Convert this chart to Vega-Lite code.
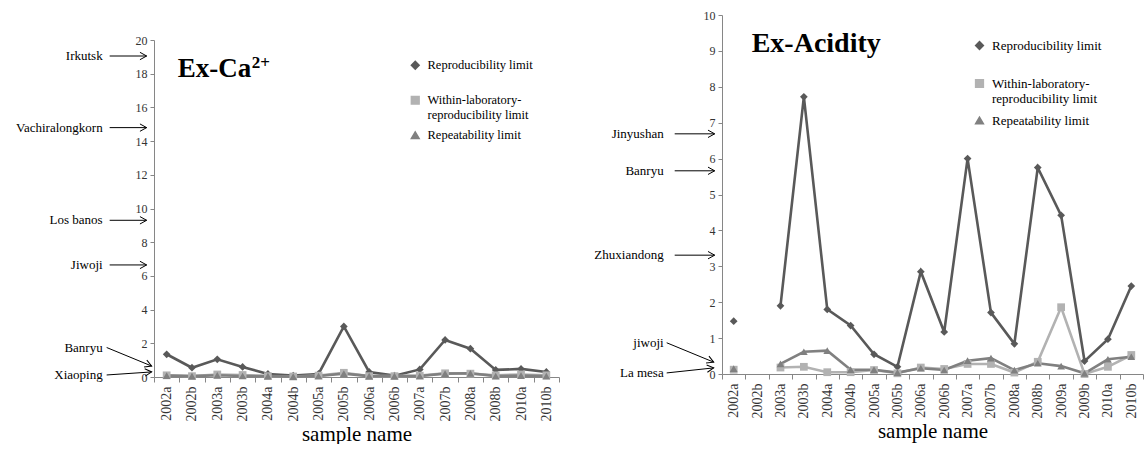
{
  "$schema": "https://vega.github.io/schema/vega-lite/v6.json",
  "background": "white",
  "padding": {"left": 16, "top": 9, "right": 2, "bottom": 0},
  "config": {
    "view": {"stroke": null},
    "font": "Liberation Serif",
    "axis": {"domainColor": "#868686", "tickColor": "#868686", "labelColor": "#333333", "labelFont": "Liberation Serif", "titleFont": "Liberation Serif", "grid": false, "labelOverlap": false},
    "axisY": {"labelFontSize": 12, "tickSize": 4, "labelPadding": 3},
    "axisX": {"labelAngle": -90, "labelFontSize": 14, "tickSize": 5, "tickBand": "extent", "labelPadding": 4, "titleFontSize": 21, "titleFontWeight": "normal", "titleColor": "#000000", "titlePadding": 2},
    "legend": {"labelFont": "Liberation Serif", "labelColor": "#000000", "labelLimit": 300},
    "text": {"font": "Liberation Serif"}
  },
  "datasets": {
    "ca": [
      {"sample": "2002a", "series": "Reproducibility limit", "value": 1.35},
      {"sample": "2002b", "series": "Reproducibility limit", "value": 0.55},
      {"sample": "2003a", "series": "Reproducibility limit", "value": 1.05},
      {"sample": "2003b", "series": "Reproducibility limit", "value": 0.6},
      {"sample": "2004a", "series": "Reproducibility limit", "value": 0.18},
      {"sample": "2004b", "series": "Reproducibility limit", "value": 0.08},
      {"sample": "2005a", "series": "Reproducibility limit", "value": 0.18},
      {"sample": "2005b", "series": "Reproducibility limit", "value": 3.0},
      {"sample": "2006a", "series": "Reproducibility limit", "value": 0.3},
      {"sample": "2006b", "series": "Reproducibility limit", "value": 0.08},
      {"sample": "2007a", "series": "Reproducibility limit", "value": 0.45},
      {"sample": "2007b", "series": "Reproducibility limit", "value": 2.2},
      {"sample": "2008a", "series": "Reproducibility limit", "value": 1.68},
      {"sample": "2008b", "series": "Reproducibility limit", "value": 0.42},
      {"sample": "2010a", "series": "Reproducibility limit", "value": 0.48},
      {"sample": "2010b", "series": "Reproducibility limit", "value": 0.3},
      {"sample": "2002a", "series": "Within-laboratory-reproducibility limit", "value": 0.1},
      {"sample": "2002b", "series": "Within-laboratory-reproducibility limit", "value": 0.05},
      {"sample": "2003a", "series": "Within-laboratory-reproducibility limit", "value": 0.15},
      {"sample": "2003b", "series": "Within-laboratory-reproducibility limit", "value": 0.12},
      {"sample": "2004a", "series": "Within-laboratory-reproducibility limit", "value": 0.05},
      {"sample": "2004b", "series": "Within-laboratory-reproducibility limit", "value": 0.03},
      {"sample": "2005a", "series": "Within-laboratory-reproducibility limit", "value": 0.08},
      {"sample": "2005b", "series": "Within-laboratory-reproducibility limit", "value": 0.25},
      {"sample": "2006a", "series": "Within-laboratory-reproducibility limit", "value": 0.05},
      {"sample": "2006b", "series": "Within-laboratory-reproducibility limit", "value": 0.05},
      {"sample": "2007a", "series": "Within-laboratory-reproducibility limit", "value": 0.08},
      {"sample": "2007b", "series": "Within-laboratory-reproducibility limit", "value": 0.22},
      {"sample": "2008a", "series": "Within-laboratory-reproducibility limit", "value": 0.2},
      {"sample": "2008b", "series": "Within-laboratory-reproducibility limit", "value": 0.1},
      {"sample": "2010a", "series": "Within-laboratory-reproducibility limit", "value": 0.15},
      {"sample": "2010b", "series": "Within-laboratory-reproducibility limit", "value": 0.1},
      {"sample": "2002a", "series": "Repeatability limit", "value": 0.08},
      {"sample": "2002b", "series": "Repeatability limit", "value": 0.05},
      {"sample": "2003a", "series": "Repeatability limit", "value": 0.1},
      {"sample": "2003b", "series": "Repeatability limit", "value": 0.06},
      {"sample": "2004a", "series": "Repeatability limit", "value": 0.05},
      {"sample": "2004b", "series": "Repeatability limit", "value": 0.02},
      {"sample": "2005a", "series": "Repeatability limit", "value": 0.06},
      {"sample": "2005b", "series": "Repeatability limit", "value": 0.2},
      {"sample": "2006a", "series": "Repeatability limit", "value": 0.05},
      {"sample": "2006b", "series": "Repeatability limit", "value": 0.05},
      {"sample": "2007a", "series": "Repeatability limit", "value": 0.06},
      {"sample": "2007b", "series": "Repeatability limit", "value": 0.2},
      {"sample": "2008a", "series": "Repeatability limit", "value": 0.22},
      {"sample": "2008b", "series": "Repeatability limit", "value": 0.05},
      {"sample": "2010a", "series": "Repeatability limit", "value": 0.08},
      {"sample": "2010b", "series": "Repeatability limit", "value": 0.05}
    ],
    "acid": [
      {"sample": "2002a", "series": "Reproducibility limit", "value": 1.47},
      {"sample": "2002b", "series": "Reproducibility limit", "value": null},
      {"sample": "2003a", "series": "Reproducibility limit", "value": 1.9},
      {"sample": "2003b", "series": "Reproducibility limit", "value": 7.72},
      {"sample": "2004a", "series": "Reproducibility limit", "value": 1.8},
      {"sample": "2004b", "series": "Reproducibility limit", "value": 1.35},
      {"sample": "2005a", "series": "Reproducibility limit", "value": 0.55},
      {"sample": "2005b", "series": "Reproducibility limit", "value": 0.2},
      {"sample": "2006a", "series": "Reproducibility limit", "value": 2.85},
      {"sample": "2006b", "series": "Reproducibility limit", "value": 1.17},
      {"sample": "2007a", "series": "Reproducibility limit", "value": 6.0},
      {"sample": "2007b", "series": "Reproducibility limit", "value": 1.71},
      {"sample": "2008a", "series": "Reproducibility limit", "value": 0.84},
      {"sample": "2008b", "series": "Reproducibility limit", "value": 5.75},
      {"sample": "2009a", "series": "Reproducibility limit", "value": 4.42},
      {"sample": "2009b", "series": "Reproducibility limit", "value": 0.36},
      {"sample": "2010a", "series": "Reproducibility limit", "value": 0.97},
      {"sample": "2010b", "series": "Reproducibility limit", "value": 2.45},
      {"sample": "2002a", "series": "Within-laboratory-reproducibility limit", "value": 0.12},
      {"sample": "2002b", "series": "Within-laboratory-reproducibility limit", "value": null},
      {"sample": "2003a", "series": "Within-laboratory-reproducibility limit", "value": 0.18},
      {"sample": "2003b", "series": "Within-laboratory-reproducibility limit", "value": 0.2},
      {"sample": "2004a", "series": "Within-laboratory-reproducibility limit", "value": 0.05},
      {"sample": "2004b", "series": "Within-laboratory-reproducibility limit", "value": 0.05},
      {"sample": "2005a", "series": "Within-laboratory-reproducibility limit", "value": 0.11},
      {"sample": "2005b", "series": "Within-laboratory-reproducibility limit", "value": 0.02},
      {"sample": "2006a", "series": "Within-laboratory-reproducibility limit", "value": 0.18},
      {"sample": "2006b", "series": "Within-laboratory-reproducibility limit", "value": 0.14},
      {"sample": "2007a", "series": "Within-laboratory-reproducibility limit", "value": 0.28},
      {"sample": "2007b", "series": "Within-laboratory-reproducibility limit", "value": 0.28},
      {"sample": "2008a", "series": "Within-laboratory-reproducibility limit", "value": 0.04},
      {"sample": "2008b", "series": "Within-laboratory-reproducibility limit", "value": 0.34},
      {"sample": "2009a", "series": "Within-laboratory-reproducibility limit", "value": 1.86},
      {"sample": "2009b", "series": "Within-laboratory-reproducibility limit", "value": 0.0},
      {"sample": "2010a", "series": "Within-laboratory-reproducibility limit", "value": 0.2},
      {"sample": "2010b", "series": "Within-laboratory-reproducibility limit", "value": 0.53},
      {"sample": "2002a", "series": "Repeatability limit", "value": 0.15},
      {"sample": "2002b", "series": "Repeatability limit", "value": null},
      {"sample": "2003a", "series": "Repeatability limit", "value": 0.28},
      {"sample": "2003b", "series": "Repeatability limit", "value": 0.62},
      {"sample": "2004a", "series": "Repeatability limit", "value": 0.65},
      {"sample": "2004b", "series": "Repeatability limit", "value": 0.12},
      {"sample": "2005a", "series": "Repeatability limit", "value": 0.12},
      {"sample": "2005b", "series": "Repeatability limit", "value": 0.04},
      {"sample": "2006a", "series": "Repeatability limit", "value": 0.16},
      {"sample": "2006b", "series": "Repeatability limit", "value": 0.11},
      {"sample": "2007a", "series": "Repeatability limit", "value": 0.37},
      {"sample": "2007b", "series": "Repeatability limit", "value": 0.44},
      {"sample": "2008a", "series": "Repeatability limit", "value": 0.11},
      {"sample": "2008b", "series": "Repeatability limit", "value": 0.3},
      {"sample": "2009a", "series": "Repeatability limit", "value": 0.22},
      {"sample": "2009b", "series": "Repeatability limit", "value": 0.02},
      {"sample": "2010a", "series": "Repeatability limit", "value": 0.41},
      {"sample": "2010b", "series": "Repeatability limit", "value": 0.48}
    ],
    "caAnn": [
      {"label": "Irkutsk", "y": 19.05, "yEnd": 19.05},
      {"label": "Vachiralongkorn", "y": 14.8, "yEnd": 14.8},
      {"label": "Los banos", "y": 9.3, "yEnd": 9.3},
      {"label": "Jiwoji", "y": 6.65, "yEnd": 6.65},
      {"label": "Banryu", "y": 1.75, "yEnd": 0.65},
      {"label": "Xiaoping", "y": 0.12, "yEnd": 0.3}
    ],
    "acidAnn": [
      {"label": "Jinyushan", "y": 6.69, "yEnd": 6.69},
      {"label": "Banryu", "y": 5.66, "yEnd": 5.66},
      {"label": "Zhuxiandong", "y": 3.31, "yEnd": 3.31},
      {"label": "jiwoji", "y": 0.87, "yEnd": 0.33},
      {"label": "La mesa", "y": 0.03, "yEnd": 0.17}
    ]
  },
  "resolve": {"scale": {"color": "independent", "shape": "independent", "x": "independent", "y": "independent"}},
  "spacing": 34,
  "hconcat": [
    {
      "spacing": 18,
      "vconcat": [
        {
          "width": 405,
          "height": 1,
          "data": {"values": [{}]},
          "mark": {"type": "point", "size": 1, "opacity": 0},
          "encoding": {}
        },
        {
          "width": 405,
          "height": 337,
          "layer": [
            {
              "data": {"name": "ca"},
              "mark": {"type": "line", "strokeWidth": 2.6, "invalid": "break-paths-show-domains"},
              "encoding": {
                "x": {"field": "sample", "type": "nominal", "bandPosition": 0.5,
                  "scale": {"type": "band", "domain": ["2002a","2002b","2003a","2003b","2004a","2004b","2005a","2005b","2006a","2006b","2007a","2007b","2008a","2008b","2010a","2010b"], "paddingInner": 0, "paddingOuter": 0},
                  "axis": {"title": "sample name", "labelOverlap": false}},
                "y": {"field": "value", "type": "quantitative", "scale": {"domain": [0, 20], "nice": false}, "axis": {"title": null, "values": [0,2,4,6,8,10,12,14,16,18,20], "tickCount": 11, "labelOverlap": false, "labelFlush": false}},
                "color": {"field": "series", "type": "nominal",
                  "scale": {"domain": ["Reproducibility limit", "Within-laboratory-reproducibility limit", "Repeatability limit"], "range": ["#595959", "#b2b2b2", "#808080"]},
                  "legend": {"title": null, "orient": "none", "legendX": 255, "legendY": 44, "labelFont": "Liberation Serif", "labelFontSize": 12.5, "rowPadding": 6, "symbolSize": 60, "labelOffset": 6, "labelExpr": "datum.label == 'Within-laboratory-reproducibility limit' ? ['Within-laboratory-', 'reproducibility limit'] : datum.label == 'Reproducibility limit' ? ['Reproducibility limit', ''] : datum.label"}}
              }
            },
            {
              "data": {"name": "ca"},
              "mark": {"type": "point", "filled": true, "opacity": 1, "size": 60, "invalid": "filter"},
              "encoding": {
                "x": {"field": "sample", "type": "nominal", "bandPosition": 0.5},
                "y": {"field": "value", "type": "quantitative"},
                "color": {"field": "series", "type": "nominal",
                  "legend": {"title": null, "orient": "none", "legendX": 255, "legendY": 44, "labelFont": "Liberation Serif", "labelFontSize": 12.5, "rowPadding": 6, "symbolSize": 60, "labelOffset": 6, "labelExpr": "datum.label == 'Within-laboratory-reproducibility limit' ? ['Within-laboratory-', 'reproducibility limit'] : datum.label == 'Reproducibility limit' ? ['Reproducibility limit', ''] : datum.label"}},
                "shape": {"field": "series", "type": "nominal",
                  "scale": {"domain": ["Reproducibility limit", "Within-laboratory-reproducibility limit", "Repeatability limit"], "range": ["diamond", "square", "triangle-up"]},
                  "legend": {"title": null, "orient": "none", "legendX": 255, "legendY": 44, "labelFont": "Liberation Serif", "labelFontSize": 12.5, "rowPadding": 6, "symbolSize": 60, "labelOffset": 6, "labelExpr": "datum.label == 'Within-laboratory-reproducibility limit' ? ['Within-laboratory-', 'reproducibility limit'] : datum.label == 'Reproducibility limit' ? ['Reproducibility limit', ''] : datum.label"}}
              }
            },
            {
              "data": {"name": "caAnn"},
              "mark": {"type": "text", "align": "right", "baseline": "middle", "dx": -64, "fontSize": 13, "font": "Liberation Serif", "color": "#000000"},
              "encoding": {
                "x": {"datum": "2002a", "type": "nominal", "bandPosition": 0.5},
                "y": {"field": "y", "type": "quantitative"},
                "text": {"field": "label"}
              }
            },
            {
              "data": {"name": "caAnn"},
              "transform": [{"filter": "datum.y == datum.yEnd"}],
              "mark": {"type": "rule", "xOffset": -57, "x2Offset": -20, "color": "#000000", "strokeWidth": 1},
              "encoding": {
                "x": {"datum": "2002a", "type": "nominal", "bandPosition": 0.5},
                "x2": {"datum": "2002a"},
                "y": {"field": "y", "type": "quantitative"}
              }
            },
            {
              "data": {"name": "caAnn"},
              "transform": [{"filter": "datum.y != datum.yEnd"}],
              "mark": {"type": "rule", "xOffset": -60, "x2Offset": -15, "color": "#000000", "strokeWidth": 1},
              "encoding": {
                "x": {"datum": "2002a", "type": "nominal", "bandPosition": 0.5},
                "x2": {"datum": "2002a"},
                "y": {"field": "y", "type": "quantitative"},
                "y2": {"field": "yEnd"}
              }
            },
            {
              "data": {"name": "caAnn"},
              "transform": [{"filter": "datum.y == datum.yEnd"}],
              "mark": {"type": "point", "shape": "M-1,-0.55L0,0L-1,0.55", "size": 180, "filled": false, "stroke": "#000000", "strokeWidth": 1, "opacity": 1, "xOffset": -20},
              "encoding": {
                "x": {"datum": "2002a", "type": "nominal", "bandPosition": 0.5},
                "y": {"field": "y", "type": "quantitative"}
              }
            },
            {
              "data": {"name": "caAnn"},
              "transform": [{"filter": "datum.label == 'Banryu'"}],
              "mark": {"type": "point", "shape": "M-1,-0.55L0,0L-1,0.55", "size": 180, "filled": false, "stroke": "#000000", "strokeWidth": 1, "opacity": 1, "xOffset": -15, "angle": 22},
              "encoding": {
                "x": {"datum": "2002a", "type": "nominal", "bandPosition": 0.5},
                "y": {"field": "yEnd", "type": "quantitative"}
              }
            },
            {
              "data": {"name": "caAnn"},
              "transform": [{"filter": "datum.label == 'Xiaoping'"}],
              "mark": {"type": "point", "shape": "M-1,-0.55L0,0L-1,0.55", "size": 180, "filled": false, "stroke": "#000000", "strokeWidth": 1, "opacity": 1, "xOffset": -15, "angle": -4},
              "encoding": {
                "x": {"datum": "2002a", "type": "nominal", "bandPosition": 0.5},
                "y": {"field": "yEnd", "type": "quantitative"}
              }
            },
            {
              "data": {"values": [{}]},
              "mark": {"type": "text", "align": "left", "baseline": "alphabetic", "dx": 11, "fontSize": 27, "fontWeight": "bold", "font": "Liberation Serif", "color": "#000000"},
              "encoding": {
                "x": {"datum": "2002a", "type": "nominal", "bandPosition": 0.5},
                "y": {"datum": 17.8, "type": "quantitative"},
                "text": {"value": "Ex-Ca"}
              }
            },
            {
              "data": {"values": [{}]},
              "mark": {"type": "text", "align": "left", "baseline": "alphabetic", "dx": 85, "fontSize": 17, "fontWeight": "bold", "font": "Liberation Serif", "color": "#000000"},
              "encoding": {
                "x": {"datum": "2002a", "type": "nominal", "bandPosition": 0.5},
                "y": {"datum": 18.35, "type": "quantitative"},
                "text": {"value": "2+"}
              }
            }
          ]
        }
      ]
    },
    {
      "width": 421,
      "height": 359,
      "layer": [
        {
          "data": {"name": "acid"},
          "mark": {"type": "line", "strokeWidth": 2.6, "invalid": "break-paths-show-domains"},
          "encoding": {
            "x": {"field": "sample", "type": "nominal", "bandPosition": 0.5,
              "scale": {"type": "band", "domain": ["2002a","2002b","2003a","2003b","2004a","2004b","2005a","2005b","2006a","2006b","2007a","2007b","2008a","2008b","2009a","2009b","2010a","2010b"], "paddingInner": 0, "paddingOuter": 0},
              "axis": {"title": "sample name", "labelOverlap": false}},
            "y": {"field": "value", "type": "quantitative", "scale": {"domain": [0, 10], "nice": false}, "axis": {"title": null, "values": [0,1,2,3,4,5,6,7,8,9,10], "tickCount": 11, "labelOverlap": false, "labelFlush": false}},
            "color": {"field": "series", "type": "nominal",
              "scale": {"domain": ["Reproducibility limit", "Within-laboratory-reproducibility limit", "Repeatability limit"], "range": ["#595959", "#b2b2b2", "#808080"]},
              "legend": {"title": null, "orient": "none", "legendX": 251, "legendY": 24, "labelFont": "Liberation Serif", "labelFontSize": 13, "rowPadding": 8, "symbolSize": 60, "labelOffset": 6, "labelExpr": "datum.label == 'Within-laboratory-reproducibility limit' ? ['Within-laboratory-', 'reproducibility limit'] : datum.label == 'Reproducibility limit' ? ['Reproducibility limit', ''] : datum.label"}}
          }
        },
        {
          "data": {"name": "acid"},
          "mark": {"type": "point", "filled": true, "opacity": 1, "size": 60, "invalid": "filter"},
          "encoding": {
            "x": {"field": "sample", "type": "nominal", "bandPosition": 0.5},
            "y": {"field": "value", "type": "quantitative"},
            "color": {"field": "series", "type": "nominal",
              "legend": {"title": null, "orient": "none", "legendX": 251, "legendY": 24, "labelFont": "Liberation Serif", "labelFontSize": 13, "rowPadding": 8, "symbolSize": 60, "labelOffset": 6, "labelExpr": "datum.label == 'Within-laboratory-reproducibility limit' ? ['Within-laboratory-', 'reproducibility limit'] : datum.label == 'Reproducibility limit' ? ['Reproducibility limit', ''] : datum.label"}},
            "shape": {"field": "series", "type": "nominal",
              "scale": {"domain": ["Reproducibility limit", "Within-laboratory-reproducibility limit", "Repeatability limit"], "range": ["diamond", "square", "triangle-up"]},
              "legend": {"title": null, "orient": "none", "legendX": 251, "legendY": 24, "labelFont": "Liberation Serif", "labelFontSize": 13, "rowPadding": 8, "symbolSize": 60, "labelOffset": 6, "labelExpr": "datum.label == 'Within-laboratory-reproducibility limit' ? ['Within-laboratory-', 'reproducibility limit'] : datum.label == 'Reproducibility limit' ? ['Reproducibility limit', ''] : datum.label"}}
          }
        },
        {
          "data": {"name": "acidAnn"},
          "mark": {"type": "text", "align": "right", "baseline": "middle", "dx": -70, "fontSize": 13, "font": "Liberation Serif", "color": "#000000"},
          "encoding": {
            "x": {"datum": "2002a", "type": "nominal", "bandPosition": 0.5},
            "y": {"field": "y", "type": "quantitative"},
            "text": {"field": "label"}
          }
        },
        {
          "data": {"name": "acidAnn"},
          "transform": [{"filter": "datum.y == datum.yEnd"}],
          "mark": {"type": "rule", "xOffset": -59, "x2Offset": -19, "color": "#000000", "strokeWidth": 1},
          "encoding": {
            "x": {"datum": "2002a", "type": "nominal", "bandPosition": 0.5},
            "x2": {"datum": "2002a"},
            "y": {"field": "y", "type": "quantitative"}
          }
        },
        {
          "data": {"name": "acidAnn"},
          "transform": [{"filter": "datum.y != datum.yEnd"}],
          "mark": {"type": "rule", "xOffset": -67, "x2Offset": -20, "color": "#000000", "strokeWidth": 1},
          "encoding": {
            "x": {"datum": "2002a", "type": "nominal", "bandPosition": 0.5},
            "x2": {"datum": "2002a"},
            "y": {"field": "y", "type": "quantitative"},
            "y2": {"field": "yEnd"}
          }
        },
        {
          "data": {"name": "acidAnn"},
          "transform": [{"filter": "datum.y == datum.yEnd"}],
          "mark": {"type": "point", "shape": "M-1,-0.55L0,0L-1,0.55", "size": 180, "filled": false, "stroke": "#000000", "strokeWidth": 1, "opacity": 1, "xOffset": -19},
          "encoding": {
            "x": {"datum": "2002a", "type": "nominal", "bandPosition": 0.5},
            "y": {"field": "y", "type": "quantitative"}
          }
        },
        {
          "data": {"name": "acidAnn"},
          "transform": [{"filter": "datum.label == 'jiwoji'"}],
          "mark": {"type": "point", "shape": "M-1,-0.55L0,0L-1,0.55", "size": 180, "filled": false, "stroke": "#000000", "strokeWidth": 1, "opacity": 1, "xOffset": -20, "angle": 23},
          "encoding": {
            "x": {"datum": "2002a", "type": "nominal", "bandPosition": 0.5},
            "y": {"field": "yEnd", "type": "quantitative"}
          }
        },
        {
          "data": {"name": "acidAnn"},
          "transform": [{"filter": "datum.label == 'La mesa'"}],
          "mark": {"type": "point", "shape": "M-1,-0.55L0,0L-1,0.55", "size": 180, "filled": false, "stroke": "#000000", "strokeWidth": 1, "opacity": 1, "xOffset": -20, "angle": -6},
          "encoding": {
            "x": {"datum": "2002a", "type": "nominal", "bandPosition": 0.5},
            "y": {"field": "yEnd", "type": "quantitative"}
          }
        },
        {
          "data": {"values": [{}]},
          "mark": {"type": "text", "align": "left", "baseline": "alphabetic", "dx": 18, "fontSize": 28, "fontWeight": "bold", "font": "Liberation Serif", "color": "#000000"},
          "encoding": {
            "x": {"datum": "2002a", "type": "nominal", "bandPosition": 0.5},
            "y": {"datum": 8.97, "type": "quantitative"},
            "text": {"value": "Ex-Acidity"}
          }
        }
      ]
    }
  ]
}
